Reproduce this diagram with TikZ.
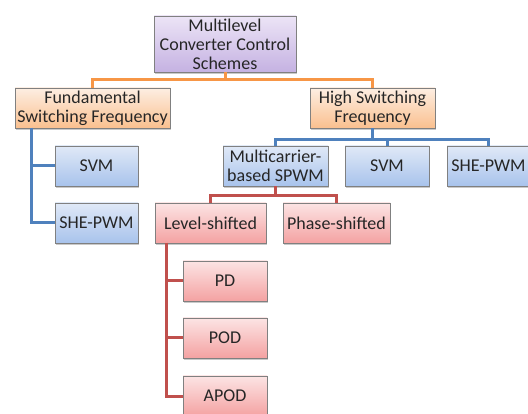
\documentclass[tikz,border=0pt]{standalone}
\usepackage{fontspec}
\setmainfont{Carlito}
\usetikzlibrary{shadows}
\definecolor{purTop}{HTML}{ECE4F6}
\definecolor{purBot}{HTML}{C5B2E2}
\definecolor{oraTop}{HTML}{FDEEE2}
\definecolor{oraBot}{HTML}{FAC08F}
\definecolor{bluTop}{HTML}{E0E9F7}
\definecolor{bluBot}{HTML}{A8C3EC}
\definecolor{redTop}{HTML}{FCE4E4}
\definecolor{redBot}{HTML}{F4A2A2}
\definecolor{oLine}{HTML}{F79646}
\definecolor{bLine}{HTML}{4F81BD}
\definecolor{rLine}{HTML}{C0504D}
\begin{document}
\begin{tikzpicture}[x=1pt,y=-1pt,
  box/.style={draw=black!50, line width=0.6pt, inner sep=0pt, align=center,
    font=\fontsize{18}{19}\selectfont, text=black!85,
    drop shadow={shadow xshift=1.2pt, shadow yshift=-1.6pt, opacity=0.35, fill=black!60}},
  purbox/.style={box, top color=purTop, bottom color=purBot},
  orabox/.style={box, top color=oraTop, bottom color=oraBot},
  blubox/.style={box, top color=bluTop, bottom color=bluBot},
  redbox/.style={box, top color=redTop, bottom color=redBot},
  oline/.style={draw=oLine, line width=3pt},
  bline/.style={draw=bLine, line width=3pt},
  rline/.style={draw=rLine, line width=3pt}]
\useasboundingbox[fill=white] (0,0) rectangle (528,414);

% lines first
\coordinate (ltop) at (31,128);
\coordinate (rtop) at (166,243);

\node[purbox, minimum width=142pt, minimum height=56pt] (root) at (225,44) {Multilevel\\Converter Control\\Schemes};
\node[orabox, minimum width=155pt, minimum height=40pt] (fund) at (92.5,108) {Fundamental\\Switching Frequency};
\node[orabox, minimum width=125pt, minimum height=40pt] (high) at (372.5,108) {High Switching\\Frequency};

\node[blubox, minimum width=83pt, minimum height=40pt] (lsvm) at (96.5,166) {SVM};
\node[blubox, minimum width=83pt, minimum height=40pt] (lshe) at (96.5,223) {SHE-PWM};

\node[blubox, minimum width=105pt, minimum height=40pt] (multi) at (275.5,166) {Multicarrier-\\based SPWM};
\node[blubox, minimum width=84pt, minimum height=40pt] (rsvm) at (387,166) {SVM};
\node[blubox, minimum width=83pt, minimum height=40pt] (rshe) at (488.5,166) {SHE-PWM};

\node[redbox, minimum width=111pt, minimum height=40pt] (level) at (210.5,223) {Level-shifted};
\node[redbox, minimum width=107pt, minimum height=40pt] (phase) at (336.5,223) {Phase-shifted};

\node[redbox, minimum width=84pt, minimum height=40pt] (pd) at (225,281) {PD};
\node[redbox, minimum width=84pt, minimum height=40pt] (pod) at (225,338) {POD};
\node[redbox, minimum width=84pt, minimum height=40pt] (apod) at (225,396) {APOD};

% connectors
\draw[oline] (root.south) -- ++(0,7) coordinate (j1);
\draw[oline] (fund.north) |- (j1) -| (high.north);

\draw[bline] (ltop) |- (lsvm.west);
\draw[bline] (ltop) |- (lshe.west);

\draw[bline] (high.south) -- ++(0,11) coordinate (j2);
\draw[bline] (multi.north) |- (j2) -| (rshe.north);
\draw[bline] (rsvm.north) -- (rsvm.north |- j2);

\draw[rline] (multi.south) -- ++(0,9) coordinate (j3);
\draw[rline] (level.north) |- (j3) -| (phase.north);

\draw[rline] (rtop) |- (pd.west);
\draw[rline] (rtop) |- (pod.west);
\draw[rline] (rtop) |- (apod.west);
\end{tikzpicture}
\end{document}
